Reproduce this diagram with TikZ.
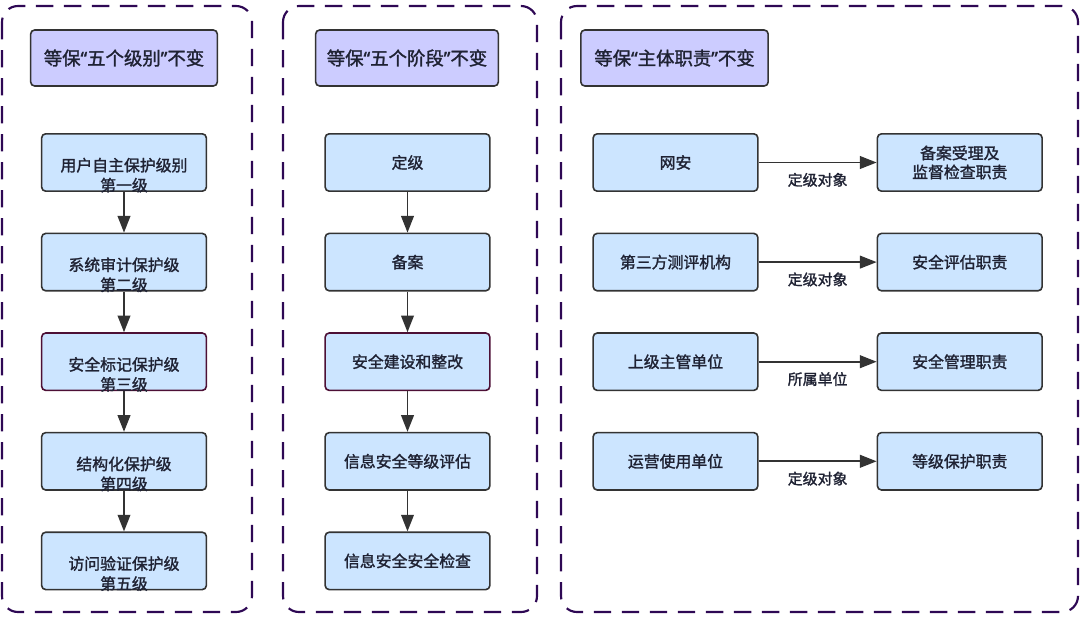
\documentclass[tikz,border=0pt]{standalone}
\usepackage{fontspec}
\setmainfont{Noto Sans CJK SC}[FakeBold=1.5]
\newfontfamily\quotefont{Noto Sans}[FakeBold=1.5]
\newcommand{\openq}{{\quotefont “}}
\newcommand{\closeq}{{\quotefont ”}}
\usetikzlibrary{arrows.meta, positioning}
\definecolor{headfill}{HTML}{CCCCFF}
\definecolor{boxfill}{HTML}{CCE5FF}
\definecolor{boxline}{HTML}{333333}
\definecolor{hotline}{HTML}{4D1035}
\definecolor{frameline}{HTML}{2E0854}
\definecolor{inktext}{HTML}{1F2233}

\begin{document}
\begin{tikzpicture}[x=0.75pt, y=-0.75pt, node distance=30.5pt,
    head/.style={draw=boxline, line width=1.2pt, rounded corners=3pt, fill=headfill,
      minimum height=42pt, text=inktext, font=\fontsize{13.8}{15}\selectfont},
    stepbox/.style={draw=boxline, line width=1.2pt, rounded corners=3pt, fill=boxfill,
      minimum width=123.5pt, minimum height=43pt, text=inktext, align=center,
      font=\fontsize{11.9}{14.25}\selectfont},
    twoline/.style={align=center, yshift=-9.5pt, inner sep=0pt, text=inktext,
      font=\fontsize{11.9}{15}\selectfont},
    tag/.style={text=inktext, font=\fontsize{11.2}{13}\selectfont, yshift=-13pt},
    flow/.style={draw=boxline, line width=1.3pt, -{Triangle[length=12.5pt, width=9.5pt]}},
    frame/.style={draw=frameline, line width=1.6pt, dash pattern=on 13pt off 8pt, rounded corners=12pt}]
  \useasboundingbox (0,0) rectangle (1080,632);

  % three dashed groups
  \draw[frame] (2,6) rectangle (252,612);
  \draw[frame] (283,6) rectangle (537,612);
  \draw[frame] (561,6) rectangle (1078,612);

  % headers
  \node[head, minimum width=140pt] (h1) at (124,58) {等保\openq 五个级别\closeq 不变};
  \node[head, minimum width=137pt] (h2) at (407,58) {等保\openq 五个阶段\closeq 不变};
  \node[head, minimum width=140.5pt] (h3) at (674.5,58) {等保\openq 主体职责\closeq 不变};

  % five levels
  \node[stepbox, label={[twoline]center:用户自主保护级别\\第一级}] (lv1) at (124,162.5) {};
  \node[stepbox, below=of lv1, label={[twoline]center:系统审计保护级\\第二级}] (lv2) {};
  \node[stepbox, draw=hotline, below=of lv2, label={[twoline]center:安全标记保护级\\第三级}] (lv3) {};
  \node[stepbox, below=of lv3, label={[twoline]center:结构化保护级\\第四级}] (lv4) {};
  \node[stepbox, below=of lv4, label={[twoline]center:访问验证保护级\\第五级}] (lv5) {};
  \foreach \a/\b in {lv1/lv2, lv2/lv3, lv3/lv4, lv4/lv5}
    \draw[flow] (\a) -- (\b);

  % five stages
  \node[stepbox] (st1) at (407.5,162.5) {定级};
  \node[stepbox, below=of st1] (st2) {备案};
  \node[stepbox, draw=hotline, below=of st2] (st3) {安全建设和整改};
  \node[stepbox, below=of st3] (st4) {信息安全等级评估};
  \node[stepbox, below=of st4] (st5) {信息安全安全检查};
  \foreach \a/\b in {st1/st2, st2/st3, st3/st4, st4/st5}
    \draw[flow] (\a) -- (\b);

  % duties
  \node[stepbox] (wa) at (675.5,162.5) {网安};
  \node[stepbox, below=of wa] (cp) {第三方测评机构};
  \node[stepbox, below=of cp] (sj) {上级主管单位};
  \node[stepbox, below=of sj] (yy) {运营使用单位};
  \node[stepbox, right=88.5pt of wa] (wad) {备案受理及\\监督检查职责};
  \node[stepbox, right=88.5pt of cp] (cpd) {安全评估职责};
  \node[stepbox, right=88.5pt of sj] (sjd) {安全管理职责};
  \node[stepbox, right=88.5pt of yy] (yyd) {等级保护职责};
  \draw[flow] (wa) -- node[tag] (t1) {定级对象} (wad);
  \draw[flow] (cp) -- node[tag] (t2) {定级对象} (cpd);
  \draw[flow] (sj) -- node[tag] (t3) {所属单位} (sjd);
  \draw[flow] (yy) -- node[tag] (t4) {定级对象} (yyd);
\end{tikzpicture}
\end{document}
